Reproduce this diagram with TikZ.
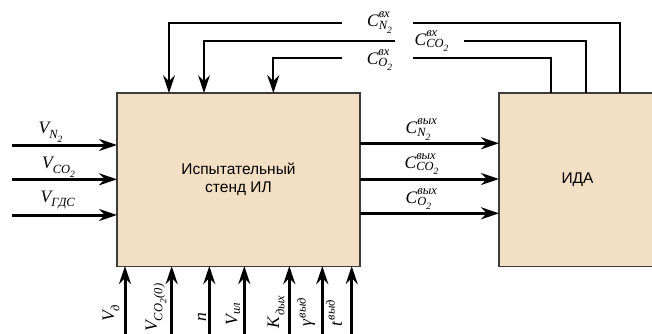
\documentclass[tikz,border=0pt]{standalone}
\usepackage{fontspec}
\setmainfont{Liberation Serif}
\newfontfamily\arialf{Liberation Sans}
\usetikzlibrary{arrows.meta}
\definecolor{boxfill}{RGB}{243,223,195}
\definecolor{boxline}{RGB}{60,60,60}
\newcommand{\mI}[1]{\hbox{\fontsize{17.5}{20}\selectfont\itshape #1}}
\newcommand{\sI}[1]{\hbox{\fontsize{12.5}{14}\selectfont\itshape #1}}
\newcommand{\ssI}[1]{\hbox{\fontsize{9.5}{11}\selectfont\itshape #1}}
\begin{document}
\begin{tikzpicture}[x=1pt,y=-1pt,
  box/.style={draw=boxline, fill=boxfill, line width=1.2pt, minimum height=173pt,
    inner sep=0pt, outer sep=0pt, font=\arialf\fontsize{15.5}{18.3}\selectfont, align=center},
  sig/.style={line width=3pt, -{Stealth[length=18pt,width=12pt,inset=6pt]}},
  fb/.style={line width=2.2pt},
  fbarr/.style={line width=2.2pt, -{Stealth[length=18pt,width=12pt,inset=6pt]}},
  lab/.style={inner sep=0pt}]
\useasboundingbox (0,0) rectangle (652,334);

\node[box, minimum width=243pt] (stand) at (238.5,179.6) {Испытательный\\стенд ИЛ};
\node[box, minimum width=157pt] (ida) at (577.5,179.6) {ИДА};

% left inputs
\coordinate (inA) at (12,145);
\coordinate (inB) at (12,179.3);
\coordinate (inC) at (12,215);
\draw[sig] (inA) -- (inA -| stand.west);
\draw[sig] (inB) -- (inB -| stand.west);
\draw[sig] (inC) -- (inC -| stand.west);
\node[lab] (lA) at (51,132) {$\mI{V}_{\sI{N}_{\ssI{2}}}$};
\node[lab] (lB) at (59,167) {$\mI{V}_{\sI{CO}_{\ssI{2}}}$};
\node[lab] (lC) at (58,200) {$\mI{V}_{\sI{ГДС}}$};

% outputs
\draw[sig] ([yshift=36.3pt]stand.east) -- ([yshift=36.3pt]ida.west);
\draw[sig] ([yshift=0.6pt]stand.east) -- ([yshift=0.6pt]ida.west);
\draw[sig] ([yshift=-33.7pt]stand.east) -- ([yshift=-33.7pt]ida.west);
\node[lab] (oA) at (421.5,129.5) {$\mI{C}^{\sI{вых}}_{\sI{N}_{\ssI{2}}}$};
\node[lab] (oB) at (422,164) {$\mI{C}^{\sI{вых}}_{\sI{CO}_{\ssI{2}}}$};
\node[lab] (oC) at (421.5,199) {$\mI{C}^{\sI{вых}}_{\sI{O}_{\ssI{2}}}$};

% bottom inputs
\coordinate (b1) at (125,334);
\coordinate (b2) at (171.7,334);
\coordinate (b3) at (209.3,334);
\coordinate (b4) at (244.3,334);
\coordinate (b5) at (289.3,334);
\coordinate (b6) at (322.3,334);
\coordinate (b7) at (351.7,334);
\foreach \b in {b1,b2,b3,b4,b5,b6,b7}
  \draw[sig] (\b) -- (\b |- stand.south);
\node[lab, rotate=90] (l1) at (111,313) {$\mI{V}_{\sI{д}}$};
\node[lab, rotate=90] (l2) at (156,307.5) {$\mI{V}_{\sI{CO}_{\ssI{2}}\sI{(0)}}$};
\node[lab, rotate=90] (l3) at (202,317) {$\mI{n}$};
\node[lab, rotate=90] (l4) at (233,314) {$\mI{V}_{\sI{ил}}$};
\node[lab, rotate=90] (l5) at (276,312) {$\mI{K}_{\,\sI{дых}}$};
\node[lab, rotate=90] (l6) at (306,312) {$\mI{γ}^{\,\sI{выд}}$};
\node[lab, rotate=90] (l7) at (334,313) {$\mI{t}^{\,\sI{выд}}$};

% feedback lines
\coordinate (t1r) at (413,23.3);
\coordinate (t1l) at (342,23.3);
\coordinate (t2r) at (464,40.7);
\coordinate (t2l) at (395,40.7);
\coordinate (t3r) at (413,58.3);
\coordinate (t3l) at (342,58.3);
\draw[fb] ([xshift=42.5pt]ida.north) |- (t1r);
\draw[fbarr] (t1l) -| ([xshift=-69.5pt]stand.north);
\draw[fb] ([xshift=8.5pt]ida.north) |- (t2r);
\draw[fbarr] (t2l) -| ([xshift=-34.5pt]stand.north);
\draw[fb] ([xshift=-26.5pt]ida.north) |- (t3r);
\draw[fbarr] (t3l) -| ([xshift=34.8pt]stand.north);
\node[lab] (tA) at (380,22.5) {$\mI{C}^{\sI{вх}}_{\sI{N}_{\ssI{2}}}$};
\node[lab] (tB) at (432,41) {$\mI{C}^{\sI{вх}}_{\sI{CO}_{\ssI{2}}}$};
\node[lab] (tC) at (380,60) {$\mI{C}^{\sI{вх}}_{\sI{O}_{\ssI{2}}}$};
\end{tikzpicture}
\end{document}
